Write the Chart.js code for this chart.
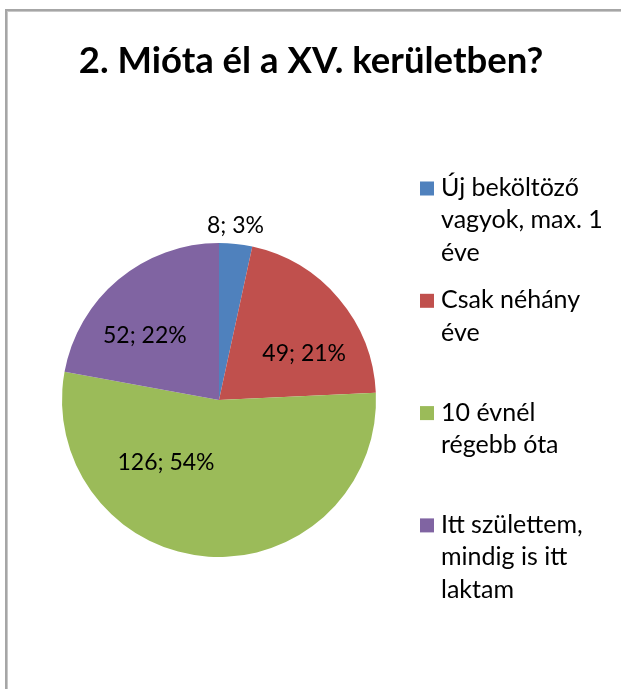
<!DOCTYPE html>
<html>
<head>
<meta charset="utf-8">
<script src="https://cdn.jsdelivr.net/npm/chart.js@4.4.1/dist/chart.umd.min.js"></script>
<style>
  html, body { margin: 0; padding: 0; background: #ffffff; }
  #wrap { position: relative; width: 621px; height: 689px; overflow: hidden; }
  canvas { display: block; }
</style>
</head>
<body>
<div id="wrap"><canvas id="c" width="621" height="689"></canvas></div>
<script>
// ---- data ----
const chartTitle = "2. Mióta él a XV. kerületben?";
const categories = [
  ["Új beköltöző", "vagyok, max. 1", "éve"],
  ["Csak néhány", "éve"],
  ["10 évnél", "régebb óta"],
  ["Itt születtem,", "mindig is itt", "laktam"]
];
const values = [8, 49, 126, 52];
const colors = ["#4F81BD", "#C0504D", "#9BBB59", "#8064A2"];

// ---- label placement (style, not data) ----
const labelAngleFrac = [0.44, 0.65, 0.69, 0.39];
const labelRadiusFrac = [1.12, 0.62, 0.52, 0.63];

const FONT = "Lato, 'Open Sans', sans-serif";
const total = values.reduce((a, b) => a + b, 0);

const decorPlugin = {
  id: 'decor',
  beforeDraw(chart) {
    const ctx = chart.ctx;
    ctx.save();
    ctx.fillStyle = '#ffffff';
    ctx.fillRect(0, 0, chart.width, chart.height);
    ctx.fillStyle = '#a6a6a6';
    ctx.fillRect(5, 9, 2, chart.height);
    ctx.fillRect(5, 9, chart.width, 2);
    ctx.fillStyle = '#c8c8c8';
    ctx.fillRect(7, 11, 1, chart.height);
    ctx.fillRect(7, 11, chart.width, 1);
    ctx.restore();
  },
  afterDatasetsDraw(chart) {
    const ctx = chart.ctx;
    const meta = chart.getDatasetMeta(0);
    ctx.save();
    ctx.fillStyle = '#000000';
    ctx.textAlign = 'center';
    ctx.textBaseline = 'middle';
    ctx.font = "23px " + FONT;
    meta.data.forEach((arc, i) => {
      const p = arc.getProps(['x', 'y', 'startAngle', 'endAngle', 'outerRadius'], true);
      const a = p.startAngle + labelAngleFrac[i] * (p.endAngle - p.startAngle);
      const r = labelRadiusFrac[i] * p.outerRadius;
      const pct = Math.round(values[i] / total * 100);
      ctx.fillText(values[i] + "; " + pct + "%", p.x + Math.cos(a) * r, p.y + Math.sin(a) * r + 1);
    });

    // title
    ctx.font = "bold 36.5px " + FONT;
    ctx.textBaseline = 'alphabetic';
    ctx.fillText(chartTitle, 311, 73);

    // legend
    ctx.textAlign = 'left';
    ctx.font = "25px " + FONT;
    const base0 = 196, step = 112.3, lh = 32.3;
    categories.forEach((lines, i) => {
      const by = base0 + i * step;
      ctx.fillStyle = colors[i];
      ctx.fillRect(420, by - 14.5, 14, 14);
      ctx.fillStyle = '#000000';
      lines.forEach((ln, j) => ctx.fillText(ln, 441, by + j * lh));
    });
    ctx.restore();
  }
};

new Chart(document.getElementById('c'), {
  type: 'pie',
  data: {
    labels: categories.map(l => l.join(' ')),
    datasets: [{
      data: values,
      backgroundColor: colors,
      borderWidth: 0,
      hoverOffset: 0
    }]
  },
  options: {
    responsive: false,
    animation: false,
    layout: { padding: { left: 62, right: 245, top: 243, bottom: 132 } },
    plugins: {
      legend: { display: false },
      title: { display: false },
      tooltip: { enabled: false }
    }
  },
  plugins: [decorPlugin]
});
</script>
</body>
</html>
